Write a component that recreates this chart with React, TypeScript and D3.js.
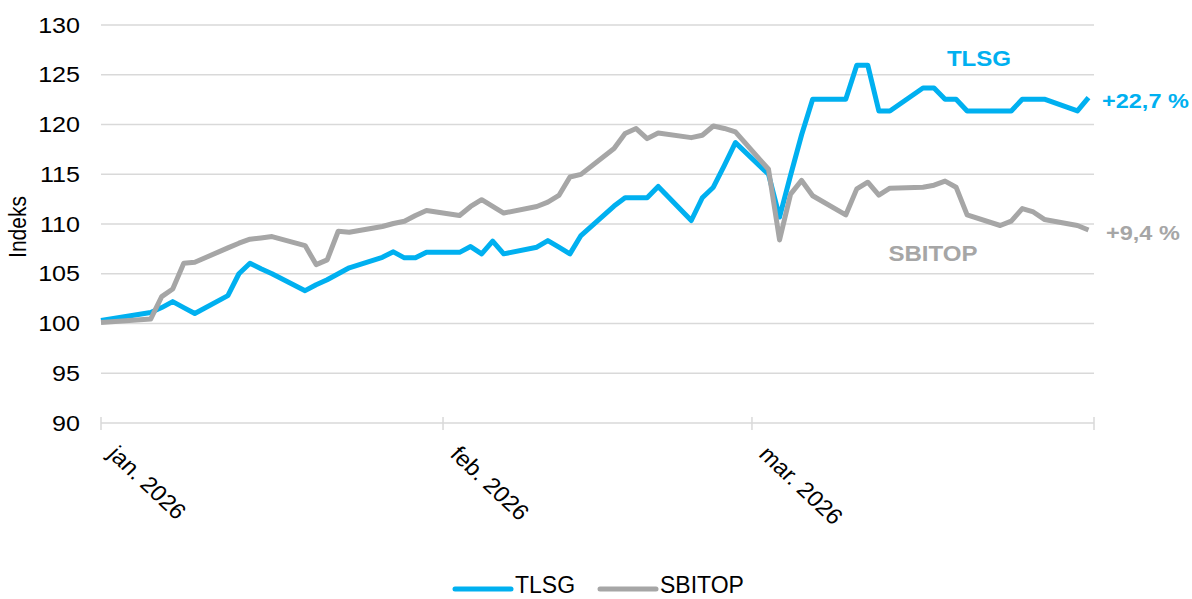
import React, { useRef, useEffect } from 'react';
import * as d3 from 'd3';

// trading days (first point is the base day, clamped to the axis start)
const dates = [
  '2025-12-31',
  '2026-01-05', '2026-01-06', '2026-01-07', '2026-01-08', '2026-01-09',
  '2026-01-12', '2026-01-13', '2026-01-14', '2026-01-15', '2026-01-16',
  '2026-01-19', '2026-01-20', '2026-01-21', '2026-01-22', '2026-01-23',
  '2026-01-26', '2026-01-27', '2026-01-28', '2026-01-29', '2026-01-30',
  '2026-02-02', '2026-02-03', '2026-02-04', '2026-02-05', '2026-02-06',
  '2026-02-09', '2026-02-10', '2026-02-11', '2026-02-12', '2026-02-13',
  '2026-02-16', '2026-02-17', '2026-02-18', '2026-02-19', '2026-02-20',
  '2026-02-23', '2026-02-24', '2026-02-25', '2026-02-26', '2026-02-27',
  '2026-03-02', '2026-03-03', '2026-03-04', '2026-03-05', '2026-03-06',
  '2026-03-09', '2026-03-10', '2026-03-11', '2026-03-12', '2026-03-13',
  '2026-03-16', '2026-03-17', '2026-03-18', '2026-03-19', '2026-03-20',
  '2026-03-23', '2026-03-24', '2026-03-25', '2026-03-26', '2026-03-27',
  '2026-03-30', '2026-03-31',
];

const tlsg = [
  100.3,
  101.1, 101.6, 102.2, 101.6, 101.0,
  102.8, 105.0, 106.05, 105.5, 105.0,
  103.3, 103.9, 104.4, 105.0, 105.6,
  106.65, 107.2, 106.6, 106.6, 107.15,
  107.15, 107.73, 107.0, 108.27, 107.0,
  107.67, 108.33, 107.67, 107.0, 108.84,
  111.8, 112.64, 112.64, 112.64, 113.78,
  110.35, 112.64, 113.7, 115.9, 118.18,
  115.0, 110.7, 114.9, 118.97, 122.54,
  122.54, 125.95, 125.95, 121.36, 121.36,
  123.67, 123.67, 122.54, 122.54, 121.36,
  121.36, 121.36, 122.54, 122.54, 122.54,
  121.36, 122.7,
];

const sbitop = [
  100.1,
  100.45, 102.7, 103.47, 106.05, 106.15,
  107.6, 108.07, 108.47, 108.6, 108.74,
  107.83, 105.92, 106.39, 109.27, 109.17,
  109.75, 110.05, 110.28, 110.86, 111.36,
  110.86, 111.76, 112.44, 111.77, 111.1,
  111.76, 112.2, 112.87, 114.72, 114.99,
  117.58, 119.09, 119.59, 118.58, 119.15,
  118.68, 118.92, 119.85, 119.6, 119.25,
  115.5, 108.4, 113.0, 114.38, 112.84,
  110.91, 113.53, 114.2, 112.91, 113.6,
  113.7, 113.9, 114.31, 113.7, 110.91,
  109.85, 110.29, 111.55, 111.21, 110.46,
  109.85, 109.4,
];

const yTicks = [90, 95, 100, 105, 110, 115, 120, 125, 130];
const monthTicks = ['2026-01-01', '2026-02-01', '2026-03-01', '2026-04-01'];
const monthLabels = ['jan. 2026', 'feb. 2026', 'mar. 2026'];

const seriesNames = ['TLSG', 'SBITOP'];
const endLabels = ['+22,7 %', '+9,4 %'];

const BLUE = '#00b0f0';
const GRAY = '#a6a6a6';
const GRID = '#d9d9d9';
const FONT = '"Liberation Sans", Arial, sans-serif';
const SX = 1.14; // the original text is a bit wide

const App: React.FC = () => {
  const svgRef = useRef<SVGSVGElement | null>(null);
  const width = 1192;
  const height = 599;

  useEffect(() => {
    document.body.style.margin = '0';
    const svg = d3.select(svgRef.current);
    svg.selectAll('*').remove();

    const parse = d3.timeParse('%Y-%m-%d');
    const x = d3.scaleTime()
      .domain([parse('2026-01-01')!, parse('2026-04-01')!])
      .range([101, 1094])
      .clamp(true);
    const y = d3.scaleLinear().domain([90, 130]).range([423, 25]);

    // points sit in the middle of their day
    const xs = dates.map(d => x(d3.timeHour.offset(parse(d)!, 12)));

    // grid
    svg.append('g')
      .selectAll('line')
      .data(yTicks)
      .join('line')
      .attr('x1', 101)
      .attr('x2', 1094)
      .attr('y1', d => y(d))
      .attr('y2', d => y(d))
      .attr('stroke', GRID)
      .attr('stroke-width', 1.5);

    // y labels
    svg.append('g')
      .selectAll('text')
      .data(yTicks)
      .join('text')
      .attr('transform', d => `translate(80,${y(d)}) scale(${SX},1)`)
      .attr('dy', '0.35em')
      .attr('text-anchor', 'end')
      .style('font-family', FONT)
      .style('font-size', '22px')
      .attr('fill', '#000')
      .text(d => d);

    svg.append('text')
      .attr('transform', `translate(26,227) scale(${SX},1) rotate(-90)`)
      .attr('text-anchor', 'middle')
      .style('font-family', FONT)
      .style('font-size', '21px')
      .attr('fill', '#000')
      .text('Indeks');

    // x ticks
    svg.append('g')
      .selectAll('line')
      .data(monthTicks)
      .join('line')
      .attr('x1', d => x(parse(d)!))
      .attr('x2', d => x(parse(d)!))
      .attr('y1', 417)
      .attr('y2', 430)
      .attr('stroke', GRID)
      .attr('stroke-width', 1.5);

    svg.append('g')
      .selectAll('text')
      .data(monthLabels)
      .join('text')
      .attr('transform', (_, i) => `translate(${x(parse(monthTicks[i])!) + 18},444) scale(1.06,1) rotate(45)`)
      .attr('dy', '0.72em')
      .attr('text-anchor', 'start')
      .style('font-family', FONT)
      .style('font-size', '22.5px')
      .attr('fill', '#000')
      .text(d => d);

    // lines
    const line = d3.line<number>()
      .x((_, i) => xs[i])
      .y(d => y(d));

    [tlsg, sbitop].forEach((vals, k) => {
      svg.append('path')
        .datum(vals)
        .attr('d', line)
        .attr('fill', 'none')
        .attr('stroke', k === 0 ? BLUE : GRAY)
        .attr('stroke-width', 5)
        .attr('stroke-linejoin', 'round');
    });

    // annotations
    const note = (tx: number, ty: number, txt: string, color: string, anchor: string, size: number) => {
      svg.append('text')
        .attr('transform', `translate(${tx},${ty}) scale(${SX - 0.02},1)`)
        .attr('dy', '0.35em')
        .attr('text-anchor', anchor)
        .style('font-family', FONT)
        .style('font-size', `${size}px`)
        .style('font-weight', 'bold')
        .attr('fill', color)
        .text(txt);
    };
    note(979, 58, seriesNames[0], BLUE, 'middle', 21.5);
    note(933, 253, seriesNames[1], GRAY, 'middle', 21.5);
    note(1102, 101, endLabels[0], BLUE, 'start', 21);
    note(1106, 233, endLabels[1], GRAY, 'start', 21);

    // legend
    const legend = svg.append('g');
    const legendX = [455, 600];
    seriesNames.forEach((name, i) => {
      legend.append('line')
        .attr('x1', legendX[i]).attr('x2', legendX[i] + 56)
        .attr('y1', 589).attr('y2', 589)
        .attr('stroke', i === 0 ? BLUE : GRAY)
        .attr('stroke-width', 5)
        .attr('stroke-linecap', 'round');
      legend.append('text')
        .attr('x', legendX[i] + 60).attr('y', 585).attr('dy', '0.35em')
        .style('font-family', FONT).style('font-size', '23px')
        .attr('fill', '#000')
        .text(name);
    });
  }, []);

  return <svg ref={svgRef} width={width} height={height} style={{ display: 'block' }}></svg>;
};

export default App;
